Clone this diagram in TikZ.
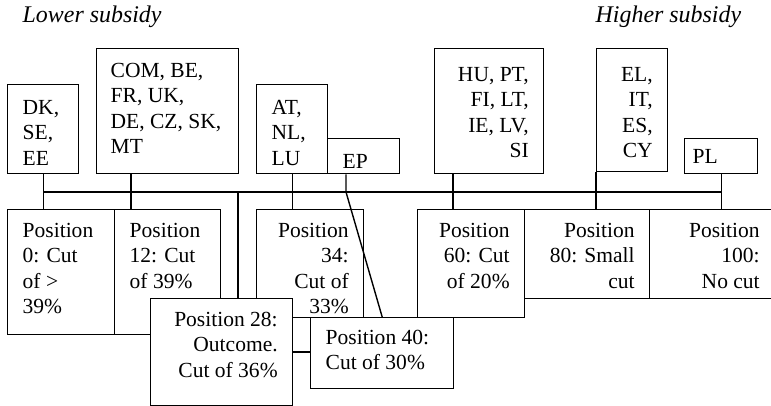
\documentclass[tikz,border=0pt]{standalone}
\usepackage{fontspec}
\setmainfont{Liberation Serif}
\usepackage{tikz}
\usetikzlibrary{positioning,calc}

\begin{document}
\begin{tikzpicture}[x=0.5bp, y=-0.5bp, line width=0.7pt,
    cell/.style={draw, fill=white, anchor=north west, inner xsep=7.5bp, inner ysep=0pt,
      text height=14bp, font=\fontsize{10.8}{12.7}\selectfont},
    lft/.style={cell, align=flush left},
    rgt/.style={cell, align=flush right},
    side/.style={anchor=base west, inner sep=0pt, font=\fontsize{12}{14}\selectfont\itshape}]
    \useasboundingbox (0,0) rectangle (771,406);

    % Subsidy direction
    \node[side] (lower) at (22,23) {Lower subsidy};
    \node[side] (higher) at (595,23) {Higher subsidy};

    % Actors
    \node[lft, text width=20.5bp, text height=15bp, text depth=29.5bp] (dk) at (7,84) {DK,\\SE,\\EE};
    \node[lft, inner xsep=7bp, text width=57bp, text height=14.5bp, text depth=48bp] (com) at (96,48) {COM, BE,\\FR, UK,\\DE, CZ, SK,\\MT};
    \node[lft, text width=20.5bp, text height=15bp, text depth=29.5bp] (at) at (256,84) {AT,\\NL,\\LU};
    \node[lft, text width=21bp, text height=15bp, text depth=2.5bp] (ep) at (327,138) {EP};
    \node[rgt, text width=39.5bp, text height=16.5bp, text depth=46bp] (hu) at (434,48) {HU, PT,\\FI, LT,\\IE, LV,\\SI};
    \node[rgt, text width=20.5bp, text height=16.5bp, text depth=45bp] (el) at (596,48) {EL,\\IT,\\ES,\\CY};
    \node[lft, inner xsep=4bp, text width=28.5bp, text height=12.5bp, text depth=5bp] (pl) at (684,138) {PL};

    % Positions
    \node[lft, text width=38.5bp, text depth=48.5bp] (p0) at (7,209) {Position\\0: Cut\\of >\\39\%};
    \node[lft, text width=38bp, text depth=48.5bp] (p12) at (114,209) {Position\\12: Cut\\of 39\%};
    \node[rgt, text width=38.5bp, text depth=40bp] (p34) at (256,209) {Position\\34:\\Cut of\\33\%};
    \node[rgt, text width=38.5bp, text depth=40bp] (p60) at (417,209) {Position\\60: Cut\\of 20\%};
    \node[rgt, text width=47.5bp, text depth=30.5bp] (p80) at (524,209) {Position\\80: Small\\cut};
    \node[rgt, text width=47.5bp, text depth=30.5bp] (p100) at (649,209) {Position\\100:\\No cut};
    \node[rgt, text width=56bp, text depth=39.5bp] (p28) at (150,298) {Position 28:\\Outcome.\\Cut of 36\%};
    \node[lft, text width=56.5bp, text height=13.5bp, text depth=22bp] (p40) at (310,317) {Position 40:\\Cut of 30\%};

    % Bus and taps
    \coordinate (tap-com) at (131,192);
    \coordinate (tap-p28) at (238,192);
    \coordinate (tap-ep) at (346,192);
    \coordinate (tap-hu) at (453,192);
    \draw (dk.south |- tap-com) -- (pl.south |- tap-com);
    \draw (dk.south) -- (dk.south |- p0.north);
    \draw (tap-com |- com.south) -- (tap-com |- p12.north);
    \draw (tap-p28) -- (tap-p28 |- p28.north);
    \draw (at.south) -- (at.south |- p34.north);
    \draw (tap-ep |- ep.south) -- (tap-ep) -- (p40.north);
    \draw (tap-hu |- hu.south) -- (tap-hu |- p60.north);
    \draw (el.south west) -- (el.south west |- p80.north);
    \draw (pl.south) -- (pl.south |- p100.north);
    \draw (p28.east) -- (p28.east -| p40.west);
\end{tikzpicture}
\end{document}
